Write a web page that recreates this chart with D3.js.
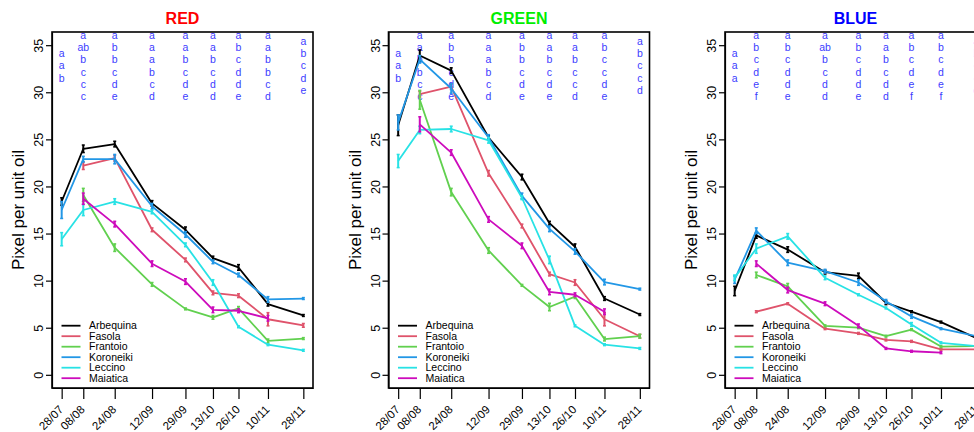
<html>
<head>
<script src="https://d3js.org/d3.v7.min.js"></script>
<style>
  body { margin: 0; background: #fff; }
  text { font-family: "Liberation Sans", Arial, sans-serif; }
</style>
</head>
<body>
<svg id="MAINSVG" width="974" height="432"></svg>
<script>
// sampling dates and varieties
var dates = ["28/07","08/08","24/08","12/09","29/09","13/10","26/10","10/11","28/11"];
var varieties = ["Arbequina","Fasola","Frantoio","Koroneiki","Leccino","Maiatica"];
var varietyColors = ["#000000","#DF536B","#61D04F","#2297E6","#28E2E5","#CD0BBC"];
var yTicks = [0,5,10,15,20,25,30,35];

// RED channel: mean pixel per unit oil, one row per variety
var redValues = [
  [18.4, 24.0, 24.5, 18.2, 15.4, 12.4, 11.4, 7.5, 6.3],
  [null, 22.2, 23.0, 15.4, 12.2, 8.7, 8.4, 5.9, 5.25],
  [null, 19.1, 13.5, 9.6, 7.0, 6.1, 7.05, 3.6, 3.85],
  [17.5, 22.9, 22.9, 17.9, 14.9, 12.0, 10.6, 8.0, 8.1],
  [14.4, 17.5, 18.4, 17.3, 13.8, 9.8, 5.1, 3.2, 2.6],
  [null, 18.7, 16.0, 11.8, 9.9, 6.9, 6.8, 6.0, null]
];
var redErrors = [
  [0.4, 0.4, 0.3, 0.3, 0.3, 0.2, 0.3, 0.2, 0.1],
  [null, 0.4, 0.3, 0.2, 0.2, 0.2, 0.2, 0.7, 0.2],
  [null, 0.7, 0.4, 0.2, 0.1, 0.2, 0.2, 0.2, 0.1],
  [0.9, 0.3, 0.5, 0.3, 0.3, 0.2, 0.2, 0.3, 0.1],
  [0.7, 0.6, 0.3, 0.2, 0.2, 0.3, 0.1, 0.1, 0.1],
  [null, 0.6, 0.3, 0.3, 0.3, 0.3, 0.2, 0.3, null]
];
var redLetters = ["a a b","a ab b c c c","a b b c d e","a a a b c d","a a b c d e",
                  "a a b c d d","a b c d d e","a a b b c d","a b c d e"];

// GREEN channel
var greenValues = [
  [26.5, 33.9, 32.3, 25.2, 21.0, 16.1, 13.6, 8.1, 6.4],
  [null, 29.8, 30.6, 21.4, 15.8, 10.7, 9.8, 5.9, 4.1],
  [null, 29.2, 19.4, 13.2, 9.5, 7.2, 8.3, 3.8, 4.1],
  [26.8, 33.5, 30.4, 25.2, 19.0, 15.5, 13.1, 9.85, 9.1],
  [22.7, 26.0, 26.1, 24.9, 18.8, 12.2, 5.2, 3.2, 2.8],
  [null, 26.6, 23.6, 16.5, 13.7, 8.8, 8.5, 6.7, null]
];
var greenErrors = [
  [1.1, 0.6, 0.3, 0.2, 0.3, 0.2, 0.3, 0.2, 0.1],
  [null, 0.3, 0.3, 0.3, 0.2, 0.2, 0.3, 0.7, 0.2],
  [null, 1.0, 0.4, 0.3, 0.1, 0.4, 0.2, 0.2, 0.2],
  [0.8, 0.4, 0.5, 0.3, 0.3, 0.3, 0.3, 0.3, 0.1],
  [0.7, 0.4, 0.3, 0.3, 0.2, 0.4, 0.1, 0.1, 0.1],
  [null, 0.8, 0.3, 0.3, 0.3, 0.3, 0.2, 0.3, null]
];
var greenLetters = ["a a b","a a b b c c","a b b c d e","a a a b c d","a b b c d e",
                    "a a b c d e","a a b c c d","a b c c d e","a b c c d"];

// BLUE channel
var blueValues = [
  [8.9, 14.8, 13.3, 10.9, 10.5, 7.65, 6.7, 5.6, 3.9],
  [null, 6.7, 7.55, 4.9, 4.4, 3.7, 3.55, 2.7, 2.7],
  [null, 10.6, 9.4, 5.2, 5.0, 4.1, 4.8, 3.0, 3.05],
  [10.1, 15.3, 11.9, 11.0, 9.8, 7.8, 6.2, 4.9, 4.1],
  [10.3, 13.4, 14.7, 10.3, 8.5, 7.1, 5.35, 3.4, 3.05],
  [null, 11.8, 9.0, 7.55, 5.2, 2.8, 2.5, 2.35, null]
];
var blueErrors = [
  [0.5, 0.3, 0.3, 0.2, 0.3, 0.2, 0.1, 0.1, 0.1],
  [null, 0.1, 0.1, 0.1, 0.1, 0.1, 0.1, 0.1, 0.1],
  [null, 0.3, 0.3, 0.1, 0.1, 0.1, 0.1, 0.1, 0.1],
  [0.4, 0.3, 0.3, 0.2, 0.3, 0.2, 0.2, 0.1, 0.1],
  [0.3, 0.5, 0.3, 0.2, 0.1, 0.1, 0.2, 0.1, 0.1],
  [null, 0.3, 0.3, 0.2, 0.2, 0.1, 0.1, 0.1, null]
];
var blueLetters = ["a a a","a b c d e f","a b c d d e","a ab b c d d","a b c d d e",
                   "a a b c d d","a b c d e f","a b c d e f","a b c c d"];

var panels = [
  {title: "RED",   color: "#FF0000", values: redValues,   errors: redErrors,   letters: redLetters},
  {title: "GREEN", color: "#00EE00", values: greenValues, errors: greenErrors, letters: greenLetters},
  {title: "BLUE",  color: "#0000FF", values: blueValues,  errors: blueErrors,  letters: blueLetters}
];

var SVG = d3.select("#MAINSVG");

var parseDate = d3.timeParse("%d/%m/%Y");
var dateObjs = dates.map(function(d){ return parseDate(d + "/2019"); });

var box_top = 32, box_bottom = 388, box_width = 261, panel_step = 336.5, first_left = 52;

// R style 4% extension of ranges
var t0 = dateObjs[0].getTime(), t1 = dateObjs[dateObjs.length-1].getTime();
var tpad = (t1 - t0) * 0.04;

var y = d3.scaleLinear().domain([-1.4, 36.4]).range([box_bottom, box_top]);

panels.forEach(function(p, pi) {
  var left = first_left + pi * panel_step;
  var x = d3.scaleTime()
    .domain([new Date(t0 - tpad), new Date(t1 + tpad)])
    .range([left, left + box_width]);

  var g = SVG.append("g");

  // title
  g.append("text")
    .attr("x", left + box_width/2)
    .attr("y", 24)
    .attr("text-anchor", "middle")
    .style("font-size", "16px")
    .style("font-weight", "bold")
    .attr("fill", p.color)
    .text(p.title);

  // y label
  g.append("text")
    .attr("transform", "translate(" + (left - 28) + "," + ((box_top + box_bottom)/2) + ") rotate(-90)")
    .attr("text-anchor", "middle")
    .style("font-size", "17px")
    .text("Pixel per unit oil");

  // y axis
  var yAxis = g.append("g")
    .attr("transform", "translate(" + left + ",0)")
    .call(d3.axisLeft(y).tickValues(yTicks).tickSize(6).tickSizeOuter(0));
  yAxis.selectAll("line").attr("stroke-width", 1.2);
  yAxis.select(".domain").attr("stroke-width", 1.2);
  yAxis.selectAll("text")
    .attr("x", -9).attr("dy", 0)
    .attr("text-anchor", "middle")
    .attr("transform", "rotate(-90,-9,0)")
    .style("font-size", "12.5px")
    .style("font-family", "'Liberation Sans', Arial, sans-serif")
    .attr("fill", "#000");

  // x axis
  var xAxis = g.append("g")
    .attr("transform", "translate(0," + box_bottom + ")")
    .call(d3.axisBottom(x).tickValues(dateObjs).tickSize(11).tickSizeOuter(0)
      .tickFormat(function(d, i){ return dates[i]; }));
  xAxis.selectAll("line").attr("stroke-width", 1.2);
  xAxis.select(".domain").attr("stroke-width", 1.2);
  xAxis.selectAll("text")
    .attr("x", -1).attr("y", 19.5).attr("dy", "0.35em")
    .attr("text-anchor", "end")
    .attr("transform", "rotate(-45,-1,19.5)")
    .style("font-size", "11.5px")
    .style("font-family", "'Liberation Sans', Arial, sans-serif")
    .attr("fill", "#000");

  // box
  g.append("rect")
    .attr("x", left).attr("y", box_top)
    .attr("width", box_width).attr("height", box_bottom - box_top)
    .attr("fill", "none")
    .attr("stroke", "#000")
    .attr("stroke-width", 1.6);

  // significance letters
  p.letters.forEach(function(col, di) {
    var parts = col.split(" ");
    parts.forEach(function(l, k) {
      g.append("text")
        .attr("x", x(dateObjs[di]))
        .attr("y", 65.7 + (k - (parts.length - 1)/2) * 12.3)
        .attr("dy", "0.35em")
        .attr("text-anchor", "middle")
        .style("font-size", "10.5px")
        .attr("fill", "#3c3cff")
        .text(l);
    });
  });

  // series
  p.values.forEach(function(vals, vi) {
    var pts = vals.map(function(v, di){ return {t: dateObjs[di], v: v, e: p.errors[vi][di]}; });
    var line = d3.line()
      .defined(function(d){ return d.v != null; })
      .x(function(d){ return x(d.t); })
      .y(function(d){ return y(d.v); });
    g.append("path")
      .datum(pts)
      .attr("d", line)
      .attr("fill", "none")
      .attr("stroke", varietyColors[vi])
      .attr("stroke-width", 1.8)
      .attr("stroke-linejoin", "round");

    pts.filter(function(d){ return d.v != null; }).forEach(function(d) {
      var cx = x(d.t);
      g.append("line")
        .attr("x1", cx).attr("x2", cx)
        .attr("y1", y(d.v - d.e)).attr("y2", y(d.v + d.e))
        .attr("stroke", varietyColors[vi]).attr("stroke-width", 2);
      [d.v - d.e, d.v + d.e].forEach(function(b) {
        g.append("line")
          .attr("x1", cx - 1.5).attr("x2", cx + 1.5)
          .attr("y1", y(b)).attr("y2", y(b))
          .attr("stroke", varietyColors[vi]).attr("stroke-width", 1.5);
      });
    });
  });

  // legend
  varieties.forEach(function(name, vi) {
    var ly = 325.7 + vi * 10.5;
    g.append("line")
      .attr("x1", left + 9.5).attr("x2", left + 28.5)
      .attr("y1", ly).attr("y2", ly)
      .attr("stroke", varietyColors[vi]).attr("stroke-width", 1.8);
    g.append("text")
      .attr("x", left + 37).attr("y", ly)
      .attr("dy", "0.35em")
      .style("font-size", "10.5px")
      .text(name);
  });
});
</script>
</body>
</html>
